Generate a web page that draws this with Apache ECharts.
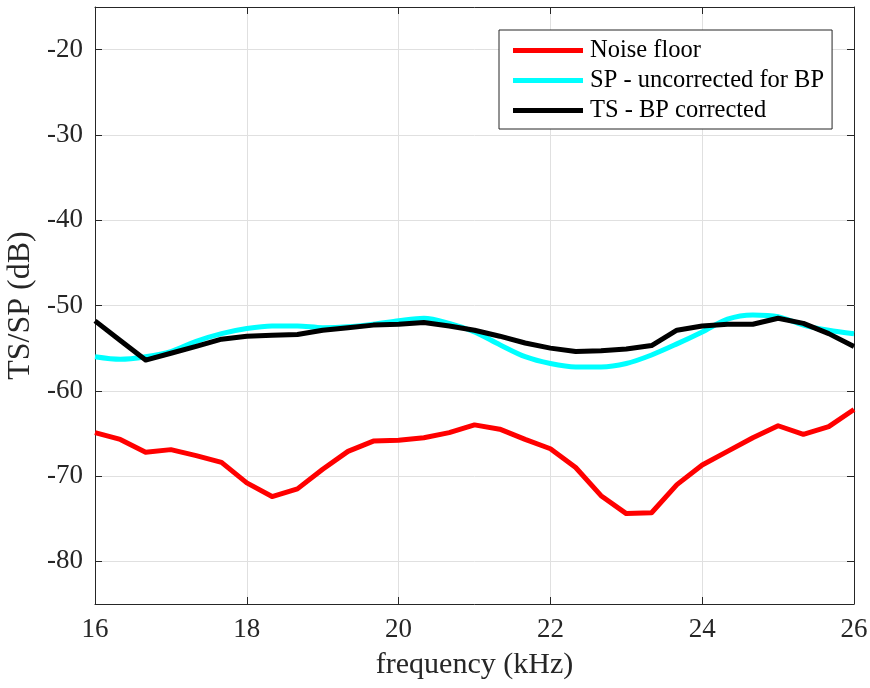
<!DOCTYPE html>
<html>
<head>
<meta charset="utf-8">
<script src="https://cdn.jsdelivr.net/npm/echarts@6/dist/echarts.min.js"></script>
<style>
  html, body { margin: 0; padding: 0; background: #fff; }
  #chart { width: 870px; height: 688px; }
</style>
</head>
<body>
<div id="chart"></div>
<script>
// Frequency samples (kHz), one every 1/3 kHz
const freq = [16, 16.333, 16.667, 17, 17.333, 17.667, 18, 18.333, 18.667, 19, 19.333, 19.667,
              20, 20.333, 20.667, 21, 21.333, 21.667, 22, 22.333, 22.667, 23, 23.333, 23.667,
              24, 24.333, 24.667, 25, 25.333, 25.667, 26];

const noiseFloor = [-64.9, -65.7, -67.2, -66.9, -67.6, -68.4, -70.8, -72.4, -71.5, -69.2, -67.1, -65.9,
                    -65.8, -65.5, -64.9, -64.0, -64.5, -65.7, -66.8, -69.0, -72.3, -74.4, -74.3, -71.0,
                    -68.7, -67.1, -65.5, -64.1, -65.1, -64.2, -62.2];

const spUncorrected = [-56.0, -56.3, -56.0, -55.4, -54.2, -53.3, -52.7, -52.4, -52.4, -52.6, -52.5, -52.2,
                       -51.8, -51.5, -52.1, -53.1, -54.6, -56.0, -56.8, -57.2, -57.2, -56.8, -55.8, -54.5,
                       -53.1, -51.6, -51.1, -51.3, -52.3, -52.9, -53.3];

const tsCorrected = [-51.8, -54.1, -56.4, -55.6, -54.8, -53.95, -53.6, -53.5, -53.4, -52.9, -52.6, -52.3,
                     -52.2, -52.0, -52.4, -52.9, -53.6, -54.4, -55.0, -55.4, -55.3, -55.1, -54.7, -52.9,
                     -52.4, -52.2, -52.2, -51.5, -52.1, -53.3, -54.8];

const seriesNames = ['Noise floor', 'SP - uncorrected for BP', 'TS - BP corrected'];
const seriesColors = ['#ff0000', '#00ffff', '#000000'];

const pairs = ys => freq.map((f, i) => [f, ys[i]]);

const FONT = '"Liberation Serif", "Times New Roman", serif';
const gridColor = '#e0e0e0';
const axisColor = '#262626';

const chart = echarts.init(document.getElementById('chart'), null, { renderer: 'canvas' });

const baseX = {
  type: 'value', min: 16, max: 26, interval: 2,
  axisLine: { show: true, onZero: false, lineStyle: { color: axisColor, width: 1 } },
  axisTick: { show: true, inside: true, length: 7, lineStyle: { color: axisColor } },
  splitLine: { show: false }
};
const baseY = {
  type: 'value', min: -85, max: -15, splitNumber: 7,
  axisLine: { show: true, onZero: false, lineStyle: { color: axisColor, width: 1 } },
  axisTick: { show: true, inside: true, length: 7, lineStyle: { color: axisColor } },
  splitLine: { show: false }
};

chart.setOption({
  backgroundColor: '#ffffff',
  animation: false,
  grid: { left: 95, right: 16, top: 7, bottom: 84, containLabel: false, outerBoundsMode: 'none' },
  legend: {
    orient: 'vertical',
    left: 499, top: 30,
    data: seriesNames,
    icon: 'rect',
    itemWidth: 70, itemHeight: 5,
    itemGap: 5,
    padding: [8, 8, 6, 14],
    borderColor: '#262626', borderWidth: 1,
    backgroundColor: '#ffffff',
    textStyle: { fontFamily: FONT, fontSize: 24.5, lineHeight: 24, color: '#000', padding: [0, 0, 0, 2] }
  },
  xAxis: [
    Object.assign({}, baseX, {
      position: 'bottom',
      name: 'frequency (kHz)', nameLocation: 'middle', nameGap: 46,
      nameTextStyle: { fontFamily: FONT, fontSize: 30, color: axisColor },
      axisLabel: { fontFamily: FONT, fontSize: 27, color: axisColor, margin: 12 },
      splitLine: { show: true, lineStyle: { color: gridColor, width: 1 } }
    }),
    Object.assign({}, baseX, { position: 'top', axisLabel: { show: false } })
  ],
  yAxis: [
    Object.assign({}, baseY, {
      position: 'left',
      name: 'TS/SP (dB)', nameLocation: 'middle', nameGap: 58, nameRotate: 90,
      nameTextStyle: { fontFamily: FONT, fontSize: 32, color: axisColor },
      axisLabel: { fontFamily: FONT, fontSize: 27, color: axisColor, margin: 12,
                   showMinLabel: false, showMaxLabel: false },
      splitLine: { show: true, lineStyle: { color: gridColor, width: 1 } }
    }),
    Object.assign({}, baseY, { position: 'right', axisLabel: { show: false } })
  ],
  series: [
    {
      name: seriesNames[0], type: 'line', data: pairs(noiseFloor),
      showSymbol: false, symbol: 'none',
      lineStyle: { color: seriesColors[0], width: 5, join: 'round' },
      itemStyle: { color: seriesColors[0] }, z: 3
    },
    {
      name: seriesNames[1], type: 'line', data: pairs(spUncorrected),
      showSymbol: false, symbol: 'none', smooth: 0.3,
      lineStyle: { color: seriesColors[1], width: 5, join: 'round' },
      itemStyle: { color: seriesColors[1] }, z: 3
    },
    {
      name: seriesNames[2], type: 'line', data: pairs(tsCorrected),
      showSymbol: false, symbol: 'none',
      lineStyle: { color: seriesColors[2], width: 5, join: 'round' },
      itemStyle: { color: seriesColors[2] }, z: 4
    }
  ]
});
</script>
</body>
</html>
